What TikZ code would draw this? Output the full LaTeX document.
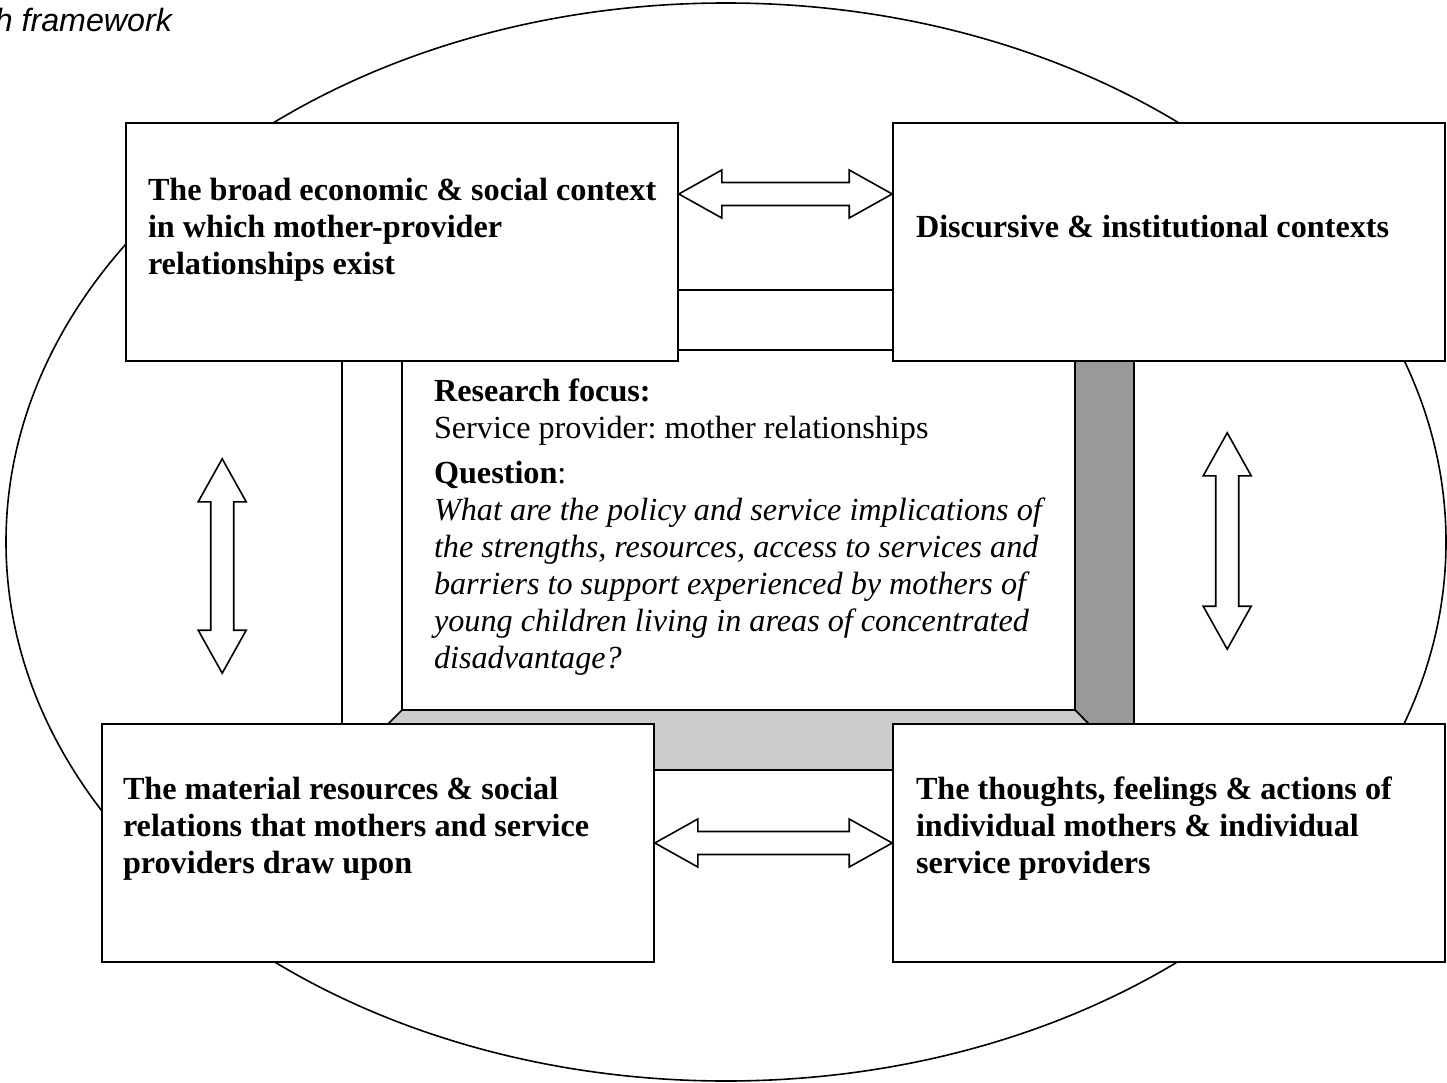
\documentclass[tikz,border=0pt]{standalone}
\usepackage{fontspec}
\setmainfont{Liberation Serif}
\newfontfamily\headfont{Liberation Sans}
\usetikzlibrary{calc}
\frenchspacing

\definecolor{darkbevel}{HTML}{999999}
\definecolor{lightbevel}{HTML}{CCCCCC}

\tikzset{
	box/.style={draw, fill=white, line width=1.6pt, minimum width=552pt, minimum height=238pt, inner sep=0pt},
	boxtext/.style={anchor=north west, align=left, inner sep=0pt, font=\bfseries\fontsize{32.2}{37}\selectfont},
	twoway/.style={draw, fill=white, line width=1.6pt, line join=miter}
}

% block arrow with a head at both ends, from #1 to #2
\newcommand\twoway[2]{%
	\path[twoway] let \p1=#1, \p2=#2, \n1={atan2(\y2-\y1,\x2-\x1)}, \n2={veclen(\x2-\x1,\y2-\y1)} in
		[shift={(\p1)}, rotate=\n1]
		(0pt,0pt) -- (43pt,24pt) -- (43pt,11.5pt) -- ({(\n2-43)*1pt},11.5pt) -- ({(\n2-43)*1pt},24pt)
		-- ({\n2*1pt},0pt) -- ({(\n2-43)*1pt},-24pt) -- ({(\n2-43)*1pt},-11.5pt) -- (43pt,-11.5pt)
		-- (43pt,-24pt) -- cycle;
}

\begin{document}
\begin{tikzpicture}[x=1pt, y=-1pt, line width=1.6pt]
			\useasboundingbox (0,0) rectangle (1447,1083);
			\node[anchor=base west, inner sep=0pt, font=\headfont\itshape\fontsize{32.2}{37}\selectfont] (caption) at (-6,32) {h framework};
			\draw (726,542) ellipse [x radius=720pt, y radius=539pt];

			% raised frame round the research focus
			\filldraw[fill=white] (342,290) rectangle (1134,770);
			\filldraw[fill=darkbevel] (1075,350) -- (1134,290) -- (1134,770) -- (1075,710) -- cycle;
			\filldraw[fill=lightbevel] (342,770) -- (402,710) -- (1075,710) -- (1134,770) -- cycle;
			\node[draw, fill=white, minimum width=673pt, minimum height=360pt, inner sep=0pt] (focus) at (738.5,530) {};
			\node[anchor=north west, align=left, inner sep=0pt, font=\fontsize{32.2}{37}\selectfont] (focustext)
				at ([shift={(32pt,-29pt)}]focus.north west)
				{\textbf{Research focus:}\\
				Service provider: mother relationships\\[8pt]
				\textbf{Question}:\\
				\itshape What are the policy and service implications of\\
				\itshape the strengths, resources, access to services and\\
				\itshape barriers to support experienced by mothers of\\
				\itshape young children living in areas of concentrated\\
				\itshape disadvantage?};

			% the four contexts
			\node[box] (context) at (402,242) {};
			\node[boxtext] (contexttext) at ([shift={(22pt,-55pt)}]context.north west)
				{The broad economic \& social context\\in which mother-provider\\relationships exist};
			\node[box] (discourse) at (1169,242) {};
			\node[boxtext] (discoursetext) at ([shift={(23pt,-92pt)}]discourse.north west)
				{Discursive \& institutional contexts};
			\node[box] (resources) at (378,843) {};
			\node[boxtext] (resourcestext) at ([shift={(21pt,-53pt)}]resources.north west)
				{The material resources \& social\\relations that mothers and service\\providers draw upon};
			\node[box] (actions) at (1169,843) {};
			\node[boxtext] (actionstext) at ([shift={(23pt,-53pt)}]actions.north west)
				{The thoughts, feelings \& actions of\\individual mothers \& individual\\service providers};

			\twoway{([yshift=48pt]context.east)}{([yshift=48pt]discourse.west)}
			\twoway{(resources.east)}{(actions.west)}
			\twoway{([shift={(97pt,-97pt)}]context.south west)}{([shift={(121pt,50pt)}]resources.north west)}
			\twoway{([shift={(335pt,-71pt)}]discourse.south west)}{([shift={(335pt,74pt)}]actions.north west)}
		\end{tikzpicture}
\end{document}
